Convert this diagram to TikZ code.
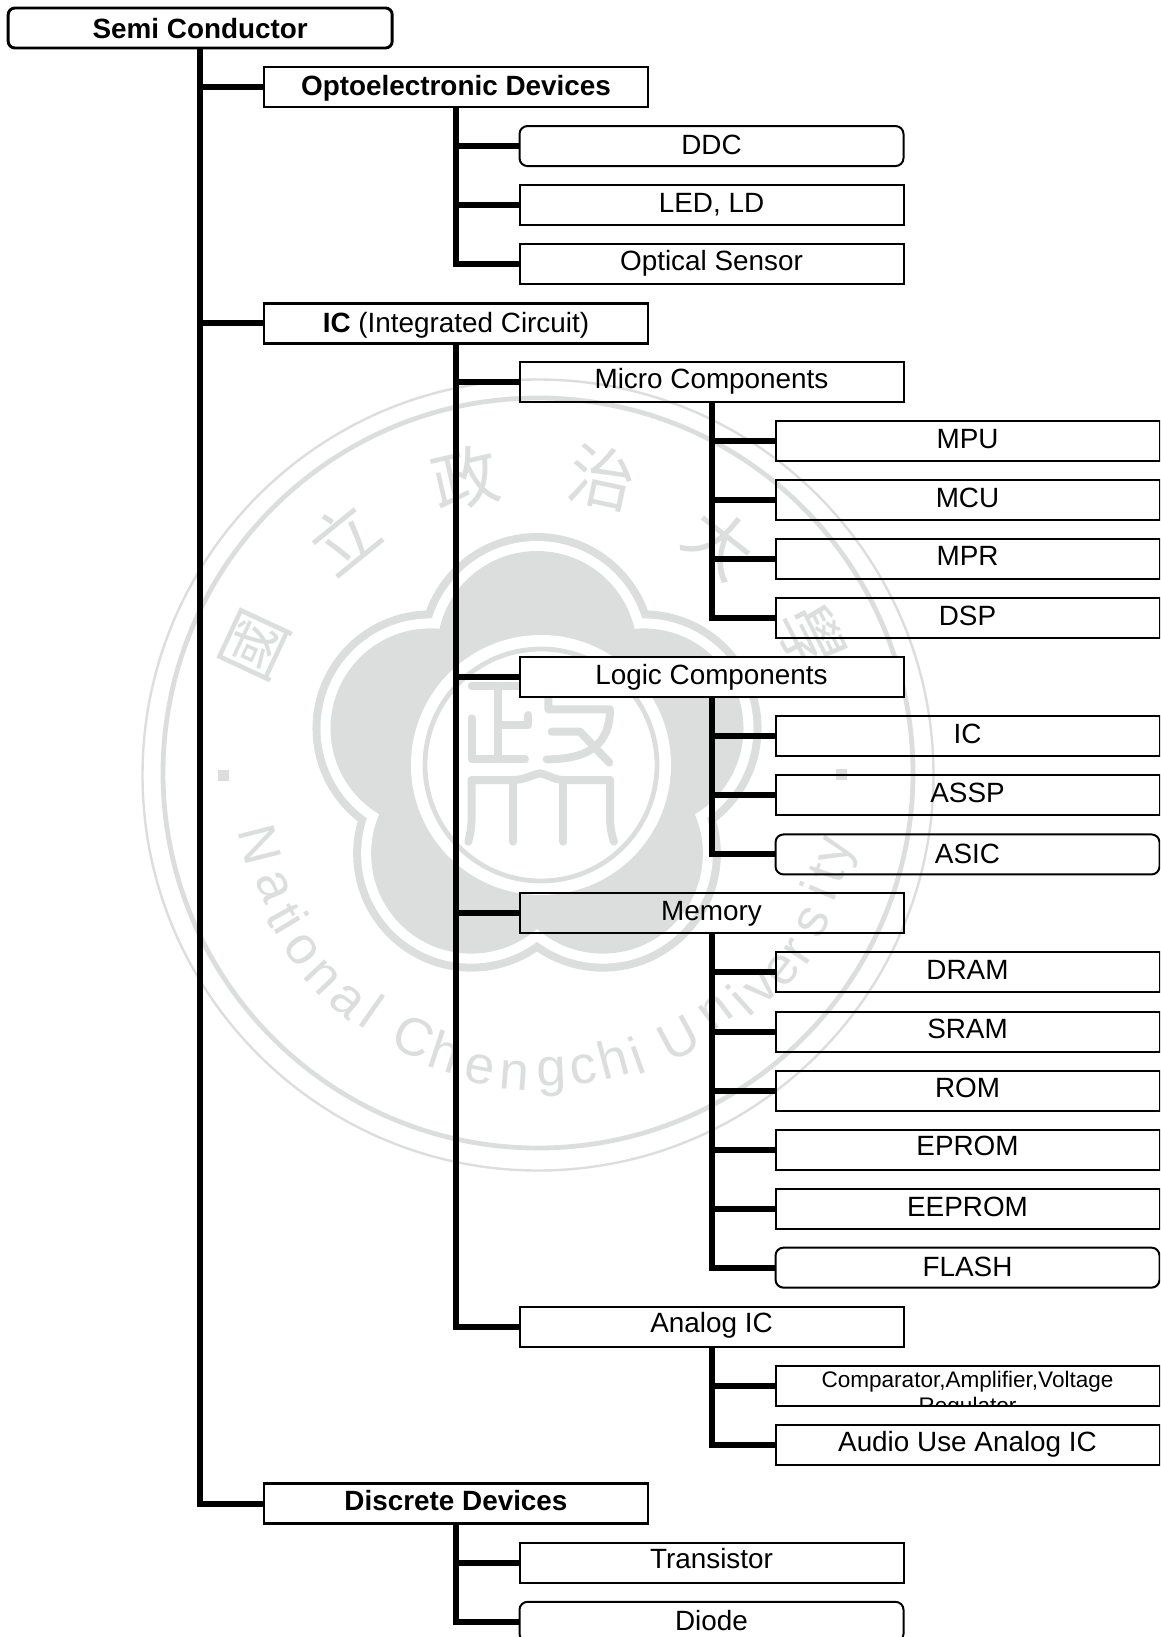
\documentclass[tikz,border=0pt]{standalone}
\usepackage{fontspec}
\setmainfont{Liberation Sans}
\newfontfamily\cjkfont{Noto Sans CJK TC}
\definecolor{wmgray}{HTML}{DCDEDD}
\newcommand{\ry}[1]{28+59.03*#1}
\newcommand{\tup}[1]{\raisebox{-5.6pt}{#1}}
\newcommand{\tupb}[1]{\raisebox{-4.9pt}{#1}}
\newcommand{\tupc}[1]{\raisebox{-4.2pt}{#1}}
\newcommand{\tmid}[1]{\raisebox{-6.7pt}{#1}}
\newcommand{\tlow}[1]{\raisebox{-7.6pt}{#1}}
\tikzset{
  basebox/.style={draw=black,rectangle,inner sep=0pt,outer sep=0pt,minimum width=288pt,minimum height=30pt,
    font=\fontsize{20.9pt}{24pt}\selectfont,text height=11pt,text depth=11pt,line join=miter},
  headbox/.style={basebox,line width=2.2pt},
  headround/.style={headbox,rounded corners=5pt},
  itembox/.style={basebox,line width=1.5pt},
  itemround/.style={itembox,rounded corners=6pt},
  trunk/.style={draw=black,line width=4.5pt,line join=miter},
  ringline/.style={draw=wmgray},
  sealstroke/.style={draw=wmgray,line width=6pt,line cap=round,line join=round},
  sealchar/.style={text=wmgray,inner sep=0pt,font=\cjkfont\fontsize{50pt}{50pt}\selectfont},
  seallatin/.style={text=wmgray,inner sep=0pt,font=\fontsize{40pt}{40pt}\selectfont},
}
\begin{document}
\begin{tikzpicture}[x=0.75pt,y=-0.75pt]
\clip (0,0) rectangle (1160,1637);
\fill[white] (0,0) rectangle (1160,1637);
% watermark
\draw[ringline,line width=1.8pt] (538,775) circle[radius=395.5];
\draw[ringline,line width=3.6pt] (538,773) circle[radius=375];
\foreach \a in {90,162,234,306,18} \fill[wmgray] ({537+112*cos(\a)},{763-112*sin(\a)}) circle[radius=118];
\foreach \a in {90,162,234,306,18} \fill[white] ({537+112*cos(\a)},{763-112*sin(\a)}) circle[radius=110];
\foreach \a in {90,162,234,306,18} \fill[wmgray] ({537+112*cos(\a)},{763-112*sin(\a)}) circle[radius=100];
\fill[white] (541,765) circle[radius=130];
\draw[ringline,line width=3.6pt] (541,765) circle[radius=116];
\begin{scope}[shift={(400,620)},x=0.25pt,y=-0.25pt]
\draw[sealstroke] (215,197) -- (370,197);
\draw[sealstroke] (293,197) -- (293,418);
\draw[sealstroke] (385,285) -- (385,315) -- (293,315);
\draw[sealstroke] (215,295) -- (215,418) -- (375,418);
\draw[sealstroke] (445,197) -- (625,197);
\draw[sealstroke] (445,197) -- (445,268) -- (630,268) .. controls (630,370) and (570,418) .. (440,418);
\draw[sealstroke] (455,335) -- (540,335) -- (628,428);
\draw[sealstroke] (215,480) -- (340,480) .. controls (370,480) and (395,465) .. (420,460) .. controls (445,465) and (465,480) .. (490,480) -- (630,480);
\draw[sealstroke] (215,480) -- (215,590) .. controls (215,620) and (210,645) .. (205,665);
\draw[sealstroke] (340,480) -- (340,665);
\draw[sealstroke] (490,480) -- (490,665);
\draw[sealstroke] (630,480) -- (630,590) .. controls (630,620) and (635,645) .. (642,665);
\end{scope}
\fill[wmgray] (217.5,770) rectangle (228.5,781);
\fill[wmgray] (835.5,769) rectangle (846.5,780);
\node[sealchar,rotate=65] (sa) at (255,645) {國};
\node[sealchar,rotate=39] (sb) at (343,538) {立};
\node[sealchar,rotate=13] (sc) at (465,478) {政};
\node[sealchar,rotate=-12] (sd) at (602,478) {治};
\node[sealchar,rotate=-38] (se) at (720,543) {大};
\node[sealchar,rotate=-63] (sf) at (812,639) {學};
\foreach \i/\c/\x/\y/\r in {1/N/260/845/-75.8,2/a/273/887/-67,3/t/283/915/-61,4/i/292/923/-59,5/o/302/950/-53.3,6/n/322/977/-46.8,7/a/347/1001/-40,8/l/372/1011/-35,9/C/414/1037/-25,10/h/446/1052/-18,11/e/480/1069/-11,12/n/514/1075/-4.4,13/g/552/1077/2.8,14/c/583/1070/8.9,15/h/613/1058/15,16/i/637/1055/19.7,17/U/679/1038/28.4,18/n/716/1012/37,19/i/740/1000/42,20/v/762/988/46.6,21/e/783/970/51.6,22/r/799/952/56,23/s/813/922/62,24/i/818/891/67.6,25/t/827/873/71.3,26/y/840/852/75.7}
  \node[seallatin,rotate=\r] (wl\i) at (\x,\y) {\c};
% boxes
\node[headround] (root) at (200.2,{\ry{0}}) {\tlow{\textbf{Semi Conductor}}};
\node[headbox] (opto) at (456,{\ry{1}}) {\tmid{\textbf{Optoelectronic Devices}}};
\node[itemround] (ddc) at (711.5,{\ry{2}}) {\tmid{DDC}};
\node[itembox] (led) at (711.5,{\ry{3}}) {\tup{LED, LD}};
\node[itembox] (optical) at (711.5,{\ry{4}}) {\tupb{Optical Sensor}};
\node[headbox] (ic) at (456,{\ry{5}}) {\tmid{\textbf{IC} (Integrated Circuit)}};
\node[itembox] (micro) at (711.5,{\ry{6}}) {\tupb{Micro Components}};
\node[itembox] (mpu) at (967.5,{\ry{7}}) {\tup{MPU}};
\node[itembox] (mcu) at (967.5,{\ry{8}}) {\tup{MCU}};
\node[itembox] (mpr) at (967.5,{\ry{9}}) {\tupb{MPR}};
\node[itembox] (dsp) at (967.5,{\ry{10}}) {\tup{DSP}};
\node[itembox,fill=white] (logic) at (711.5,{\ry{11}}) {\tup{Logic Components}};
\node[itembox] (cic) at (967.5,{\ry{12}}) {\tup{IC}};
\node[itembox] (assp) at (967.5,{\ry{13}}) {\tup{ASSP}};
\node[itemround] (asic) at (967.5,{\ry{14}}) {\tmid{ASIC}};
\node[itembox] (memory) at (711.5,{\ry{15}}) {\tup{Memory}};
\node[itembox] (dram) at (967.5,{\ry{16}}) {\tup{DRAM}};
\node[itembox] (sram) at (967.5,{\ry{17}}) {\tup{SRAM}};
\node[itembox] (rom) at (967.5,{\ry{18}}) {\tupb{ROM}};
\node[itembox] (eprom) at (967.5,{\ry{19}}) {\tupc{EPROM}};
\node[itembox] (eeprom) at (967.5,{\ry{20}}) {\tup{EEPROM}};
\node[itemround] (flash) at (967.5,{\ry{21}}) {\tmid{FLASH}};
\node[itembox] (analog) at (711.5,{\ry{22}}) {\tupc{Analog IC}};
\node[itembox,path picture={
  \node[anchor=base,inner sep=0pt,font=\fontsize{16.9pt}{20pt}\selectfont] (cmpa) at ([yshift=-1.4pt]path picture bounding box.center) {Comparator,Amplifier,Voltage};
  \node[anchor=base,inner sep=0pt,font=\fontsize{16.9pt}{20pt}\selectfont] (cmpb) at ([yshift=-20.9pt]path picture bounding box.center) {Regulator};
}] (comparator) at (967.5,{\ry{23}}) {};
\node[itembox] (audio) at (967.5,{\ry{24}}) {\tupb{Audio Use Analog IC}};
\node[headbox] (discrete) at (456,{\ry{25}}) {\tupb{\textbf{Discrete Devices}}};
\node[itembox] (transistor) at (711.5,{\ry{26}}) {\tupc{Transistor}};
\node[itemround] (diode) at (711.5,{\ry{27}}) {\tmid{Diode}};
% connectors
\draw[trunk] (root.south) |- (discrete.west);
\foreach \c in {opto,ic} \draw[trunk] (root.south |- \c.west) -- (\c.west);
\draw[trunk] (opto.south) |- (optical.west);
\foreach \c in {ddc,led} \draw[trunk] (opto.south |- \c.west) -- (\c.west);
\draw[trunk] (ic.south) |- (analog.west);
\foreach \c in {micro,logic,memory} \draw[trunk] (ic.south |- \c.west) -- (\c.west);
\draw[trunk] (micro.south) |- (dsp.west);
\foreach \c in {mpu,mcu,mpr} \draw[trunk] (micro.south |- \c.west) -- (\c.west);
\draw[trunk] (logic.south) |- (asic.west);
\foreach \c in {cic,assp} \draw[trunk] (logic.south |- \c.west) -- (\c.west);
\draw[trunk] (memory.south) |- (flash.west);
\foreach \c in {dram,sram,rom,eprom,eeprom} \draw[trunk] (memory.south |- \c.west) -- (\c.west);
\draw[trunk] (analog.south) |- (audio.west);
\draw[trunk] (analog.south |- comparator.west) -- (comparator.west);
\draw[trunk] (discrete.south) |- (diode.west);
\draw[trunk] (discrete.south |- transistor.west) -- (transistor.west);
\end{tikzpicture}
\end{document}
